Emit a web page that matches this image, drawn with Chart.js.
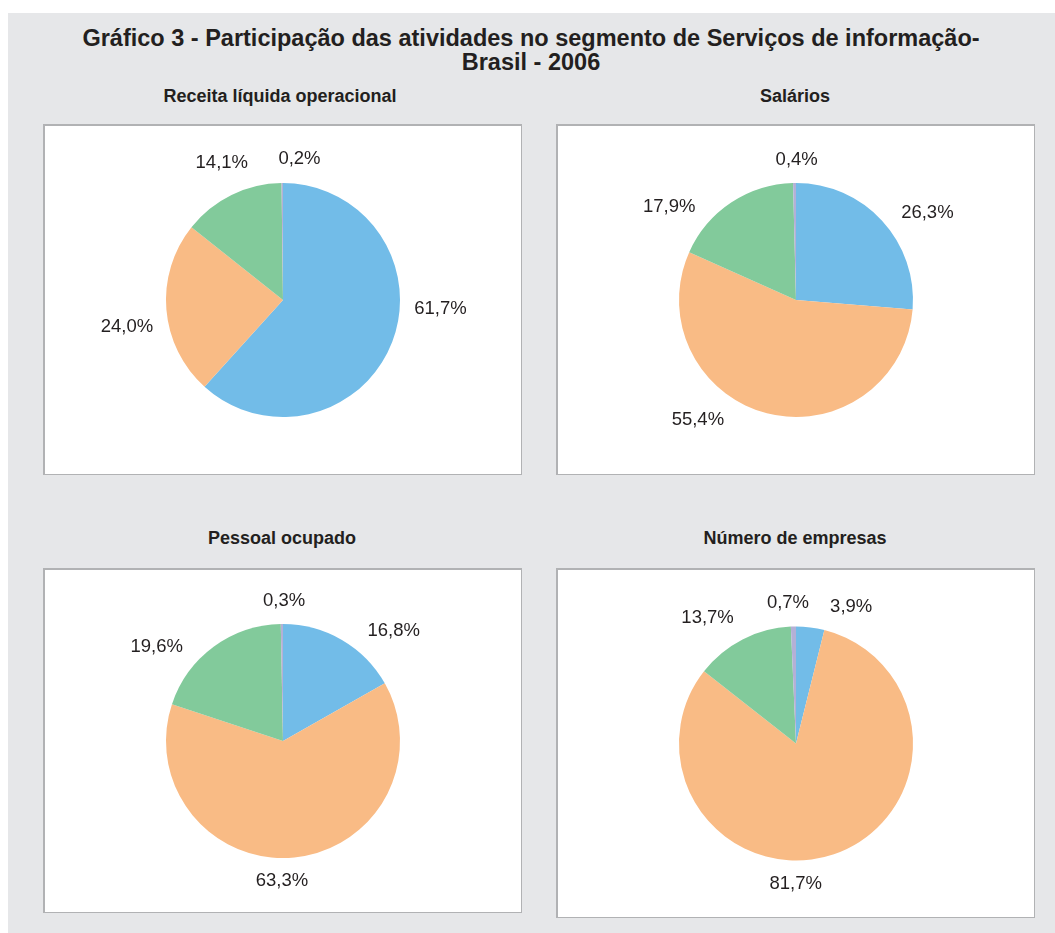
<!DOCTYPE html>
<html>
<head>
<meta charset="utf-8">
<script src="https://cdn.jsdelivr.net/npm/chart.js@4"></script>
<style>
  body { margin: 0; width: 1055px; height: 933px; background: #fff; font-family: "Liberation Sans", Arial, sans-serif; color: #231f20; overflow: hidden; }
  #bg { position: absolute; left: 8px; top: 13px; right: 0; bottom: 0; background: #e6e7e9; }
  .title { position: absolute; left: 8px; width: 1046px; text-align: center; font-weight: bold; font-size: 23.5px; line-height: 24px; }
  .sub { position: absolute; width: 480px; text-align: center; font-weight: bold; font-size: 18px; }
  .panel { position: absolute; background: #fff; border: 2px solid #b1b2b4; border-right-width: 1.5px; border-bottom-width: 1.5px; box-sizing: border-box; }
  .panel canvas { position: absolute; left: 0; top: 0; }
</style>
</head>
<body>
<div id="bg"></div>
<div class="title" style="top:26px">Gráfico 3 - Participação das atividades no segmento de Serviços de informação-<br>Brasil - 2006</div>

<div class="sub" style="left:40px; top:86px">Receita líquida operacional</div>
<div class="sub" style="left:555px; top:86px">Salários</div>
<div class="sub" style="left:42px; top:528px">Pessoal ocupado</div>
<div class="sub" style="left:555px; top:528px">Número de empresas</div>

<div class="panel" style="left:43px; top:124px; width:479px; height:351px"><canvas id="receita"></canvas></div>
<div class="panel" style="left:556px; top:124px; width:479px; height:351px"><canvas id="salarios"></canvas></div>
<div class="panel" style="left:43px; top:568px; width:479px; height:345px"><canvas id="pessoal"></canvas></div>
<div class="panel" style="left:556px; top:568px; width:479px; height:350px"><canvas id="empresas"></canvas></div>

<script>
const categories = ['Telecomunicações', 'Tecnologia da informação', 'Serviços audiovisuais', 'Agências de notícias'];

const receita = [61.7, 24.0, 14.1, 0.2];
const salarios = [26.3, 55.4, 17.9, 0.4];
const pessoal = [16.8, 63.3, 19.6, 0.3];
const empresas = [3.9, 81.7, 13.7, 0.7];

const sliceColors = ['#72bce8', '#f9bb85', '#82ca9b', '#b4b0d6'];

// small angle shifts (degrees) so labels sit where the original put them
const labelShift = {
  receita: [-18, -5, 2, 7],
  salarios: [9, 25, -20, 1],
  pessoal: [15, 6, -17, 1],
  empresas: [15, 19, -8, -2]
};

const outsideLabels = {
  id: 'outsideLabels',
  afterDatasetsDraw(chart, args, opts) {
    const ctx = chart.ctx;
    const meta = chart.getDatasetMeta(0);
    const values = chart.data.datasets[0].data;
    ctx.save();
    ctx.font = '18.5px "Liberation Sans", Arial, sans-serif';
    ctx.fillStyle = '#231f20';
    ctx.textAlign = 'center';
    ctx.textBaseline = 'middle';
    meta.data.forEach((arc, i) => {
      const p = arc.getProps(['x', 'y', 'startAngle', 'endAngle', 'outerRadius'], true);
      const a = (p.startAngle + p.endAngle) / 2 + (opts.shift[i] || 0) * Math.PI / 180;
      const text = values[i].toFixed(1).replace('.', ',') + '%';
      const w = ctx.measureText(text).width;
      const h = 18;
      const d = p.outerRadius + 14 + Math.abs(Math.cos(a)) * w / 2 + Math.abs(Math.sin(a)) * h / 2;
      ctx.fillText(text, p.x + Math.cos(a) * d, p.y + Math.sin(a) * d);
    });
    ctx.restore();
  }
};

function makePie(id, values) {
  const canvas = document.getElementById(id);
  const box = canvas.parentElement;
  canvas.width = box.clientWidth;
  canvas.height = box.clientHeight;
  const padY = (box.clientHeight - 234) / 2;
  return new Chart(canvas, {
    type: 'pie',
    data: {
      labels: categories,
      datasets: [{
        data: values,
        backgroundColor: sliceColors,
        borderWidth: 0
      }]
    },
    options: {
      responsive: false,
      animation: false,
      layout: { padding: { top: padY, bottom: padY, left: 20, right: 20 } },
      plugins: {
        legend: { display: false },
        tooltip: { enabled: false },
        outsideLabels: { shift: labelShift[id] }
      }
    },
    plugins: [outsideLabels]
  });
}

makePie('receita', receita);
makePie('salarios', salarios);
makePie('pessoal', pessoal);
makePie('empresas', empresas);
</script>
</body>
</html>
